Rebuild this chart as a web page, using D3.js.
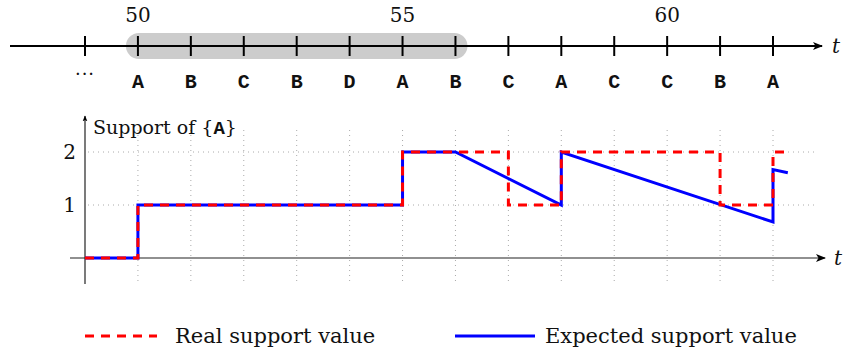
<!DOCTYPE html>
<html>
<head>
<meta charset="utf-8">
<script src="https://cdn.jsdelivr.net/npm/d3@7"></script>
<style>
  body { margin: 0; background: #fff; }
  text { font-family: "DejaVu Serif", serif; fill: #111; }
  .mono { font-family: "Liberation Mono", "Cousine", "Courier New", monospace; font-weight: bold; }
</style>
</head>
<body>
<script>
// timeline data
var times = [49, 50, 51, 52, 53, 54, 55, 56, 57, 58, 59, 60, 61, 62];
var items = ["\u00b7\u00b7\u00b7", "A", "B", "C", "B", "D", "A", "B", "C", "A", "C", "C", "B", "A"];
var timeLabels = [50, 55, 60];
var windowRange = [50, 56];

// support of {A}
var realT = [49, 50, 50, 55, 55, 57, 57, 58, 58, 61, 61, 62, 62, 62.28];
var realV = [0, 0, 1, 1, 2, 2, 1, 1, 2, 2, 1, 1, 2, 2];
var expT = [49, 50, 50, 55, 55, 56, 58, 58, 62, 62, 62.28];
var expV = [0, 0, 1, 1, 2, 2, 1, 2, 0.68, 1.67, 1.61];
var yTicks = [1, 2];

var W = 843, H = 352;
var svg = d3.select("body").append("svg")
    .attr("width", W)
    .attr("height", H);

var defs = svg.append("defs");
defs.append("marker")
    .attr("id", "arrow")
    .attr("viewBox", "0 0 10 10")
    .attr("refX", 9).attr("refY", 5)
    .attr("markerWidth", 6).attr("markerHeight", 6)
    .attr("markerUnits", "userSpaceOnUse")
    .attr("orient", "auto")
    .append("path")
    .attr("d", "M0,1 L10,5 L0,9 L2.5,5 Z")
    .attr("fill", "#000");
defs.append("marker")
    .attr("id", "arrowBig")
    .attr("viewBox", "0 0 10 10")
    .attr("refX", 9).attr("refY", 5)
    .attr("markerWidth", 14).attr("markerHeight", 10)
    .attr("markerUnits", "userSpaceOnUse")
    .attr("orient", "auto")
    .append("path")
    .attr("d", "M0,1 L10,5 L0,9 L2.5,5 Z")
    .attr("fill", "#000");

var x = d3.scaleLinear().domain([49, 62]).range([85, 773]);

// ---- timeline ----
var ty = 46;
var topG = svg.append("g");

topG.append("rect")
    .attr("x", x(windowRange[0]) - 12)
    .attr("y", ty - 13)
    .attr("width", x(windowRange[1]) - x(windowRange[0]) + 24)
    .attr("height", 26)
    .attr("rx", 13)
    .attr("fill", "#cccccc");

topG.append("line")
    .attr("x1", 10).attr("x2", 822)
    .attr("y1", ty).attr("y2", ty)
    .attr("stroke", "#000").attr("stroke-width", 2)
    .attr("marker-end", "url(#arrowBig)");

topG.selectAll(".tk").data(times).enter().append("line")
    .attr("x1", d => x(d)).attr("x2", d => x(d))
    .attr("y1", ty - 10).attr("y2", ty + 10)
    .attr("stroke", "#000").attr("stroke-width", 2);

topG.selectAll(".tl").data(timeLabels).enter().append("text")
    .attr("x", d => x(d)).attr("y", 22)
    .attr("text-anchor", "middle")
    .style("font-size", "20px")
    .text(d => d);

topG.selectAll(".it").data(items.slice(1)).enter().append("text")
    .attr("class", "mono")
    .attr("x", (d, i) => x(times[i + 1])).attr("y", 88)
    .attr("text-anchor", "middle")
    .style("font-size", "20px")
    .text(d => d);

topG.append("text")
    .attr("x", x(times[0])).attr("y", 80)
    .attr("text-anchor", "middle")
    .style("font-size", "18px")
    .style("letter-spacing", "1px")
    .text(items[0]);

topG.append("text")
    .attr("x", 832).attr("y", 53)
    .style("font-size", "20px").style("font-style", "italic")
    .text("t");

// ---- support chart ----
var y = d3.scaleLinear().domain([0, 2]).range([258, 152]);
var g = svg.append("g");

// grid
g.selectAll(".vg").data(times.slice(1)).enter().append("line")
    .attr("x1", d => x(d)).attr("x2", d => x(d))
    .attr("y1", 130).attr("y2", 284)
    .attr("stroke", "#aaa").attr("stroke-width", 1)
    .attr("stroke-dasharray", "1,4");
g.selectAll(".hg").data(yTicks).enter().append("line")
    .attr("x1", 88).attr("x2", 814)
    .attr("y1", d => y(d)).attr("y2", d => y(d))
    .attr("stroke", "#aaa").attr("stroke-width", 1)
    .attr("stroke-dasharray", "1,4");

// axes
g.append("line")
    .attr("x1", 70).attr("x2", 825)
    .attr("y1", y(0)).attr("y2", y(0))
    .attr("stroke", "#222").attr("stroke-width", 1.2)
    .attr("marker-end", "url(#arrowBig)");
g.append("line")
    .attr("x1", x(49)).attr("x2", x(49))
    .attr("y1", 284).attr("y2", 116)
    .attr("stroke", "#222").attr("stroke-width", 1.2)
    .attr("marker-end", "url(#arrow)");

g.selectAll(".yt").data(yTicks).enter().append("text")
    .attr("x", 76).attr("y", d => y(d) + 7)
    .attr("text-anchor", "end")
    .style("font-size", "20px")
    .text(d => d);

var lab = g.append("text").attr("x", 93).attr("y", 134).style("font-size", "19px");
lab.append("tspan").text("Support of {");
lab.append("tspan").attr("class", "mono").style("font-size", "19px").text("A");
lab.append("tspan").text("}");

g.append("text")
    .attr("x", 834).attr("y", 265)
    .style("font-size", "20px").style("font-style", "italic")
    .text("t");

var line = d3.line().x(d => x(d[0])).y(d => y(d[1]));

g.append("path")
    .datum(d3.zip(expT, expV))
    .attr("d", line)
    .attr("fill", "none")
    .attr("stroke", "#0000ff").attr("stroke-width", 3);

g.append("path")
    .datum(d3.zip(realT, realV))
    .attr("d", line)
    .attr("fill", "none")
    .attr("stroke", "#ff0000").attr("stroke-width", 3)
    .attr("stroke-dasharray", "9,7");

// ---- legend ----
var leg = svg.append("g");
leg.append("line")
    .attr("x1", 85).attr("x2", 157).attr("y1", 336).attr("y2", 336)
    .attr("stroke", "#ff0000").attr("stroke-width", 3)
    .attr("stroke-dasharray", "9,7");
leg.append("text").attr("x", 175).attr("y", 343)
    .style("font-size", "21px").text("Real support value");
leg.append("line")
    .attr("x1", 455).attr("x2", 535).attr("y1", 336).attr("y2", 336)
    .attr("stroke", "#0000ff").attr("stroke-width", 3);
leg.append("text").attr("x", 545).attr("y", 343)
    .style("font-size", "21px").text("Expected support value");
</script>
</body>
</html>
